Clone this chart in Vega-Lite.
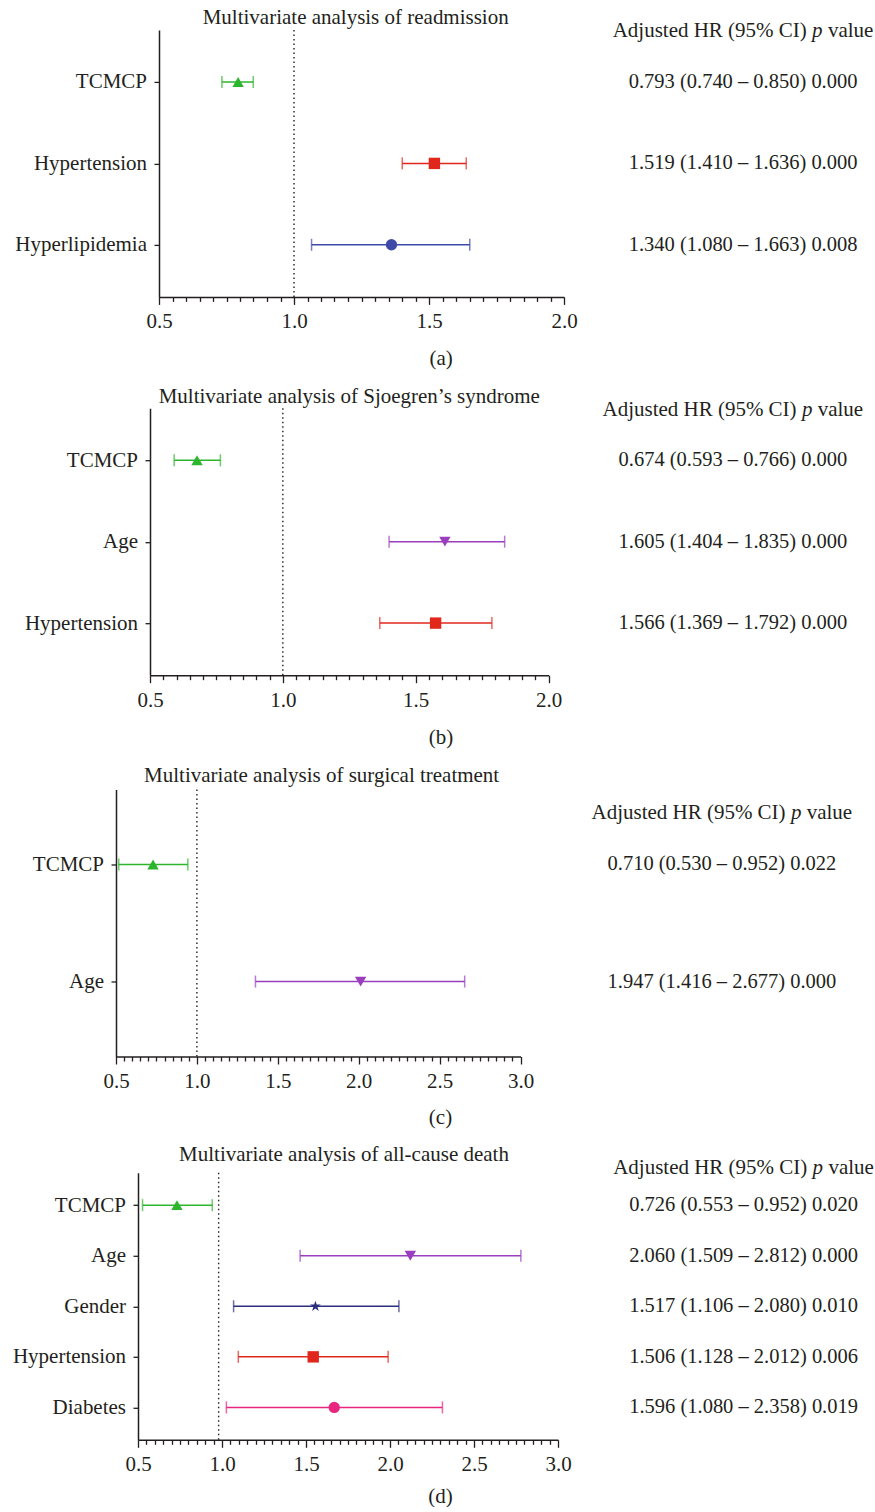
{
  "$schema": "https://vega.github.io/schema/vega-lite/v6.json",
  "background": "white",
  "padding": {"top": 5.9, "left": 0, "right": 0, "bottom": 0},
  "datasets": {
    "a": [
      {"var": "TCMCP", "hr": 0.793, "lo": 0.733, "hi": 0.849, "text": "0.793 (0.740 – 0.850) 0.000"},
      {"var": "Hypertension", "hr": 1.52, "lo": 1.401, "hi": 1.638, "text": "1.519 (1.410 – 1.636) 0.000"},
      {"var": "Hyperlipidemia", "hr": 1.361, "lo": 1.065, "hi": 1.651, "text": "1.340 (1.080 – 1.663) 0.008"}
    ],
    "b": [
      {"var": "TCMCP", "hr": 0.677, "lo": 0.591, "hi": 0.765, "text": "0.674 (0.593 – 0.766) 0.000"},
      {"var": "Age", "hr": 1.61, "lo": 1.4, "hi": 1.835, "text": "1.605 (1.404 – 1.835) 0.000"},
      {"var": "Hypertension", "hr": 1.575, "lo": 1.365, "hi": 1.787, "text": "1.566 (1.369 – 1.792) 0.000"}
    ],
    "c": [
      {"var": "TCMCP", "hr": 0.729, "lo": 0.517, "hi": 0.944, "text": "0.710 (0.530 – 0.952) 0.022"},
      {"var": "Age", "hr": 2.012, "lo": 1.362, "hi": 2.655, "text": "1.947 (1.416 – 2.677) 0.000"}
    ],
    "d": [
      {"var": "TCMCP", "hr": 0.732, "lo": 0.527, "hi": 0.942, "text": "0.726 (0.553 – 0.952) 0.020"},
      {"var": "Age", "hr": 2.121, "lo": 1.465, "hi": 2.779, "text": "2.060 (1.509 – 2.812) 0.000"},
      {"var": "Gender", "hr": 1.556, "lo": 1.069, "hi": 2.053, "text": "1.517 (1.106 – 2.080) 0.010"},
      {"var": "Hypertension", "hr": 1.543, "lo": 1.097, "hi": 1.989, "text": "1.506 (1.128 – 2.012) 0.006"},
      {"var": "Diabetes", "hr": 1.668, "lo": 1.026, "hi": 2.312, "text": "1.596 (1.080 – 2.358) 0.019"}
    ],
    "ref1": [{"ref": 1.0}],
    "refD": [{"ref": 0.98}],
    "none": []
  },
  "concat": [
    {
      "spacing": 0,
      "hconcat": [
        {"width": 2, "height": 10, "data": {"name": "none"}, "mark": {"type": "text"}, "encoding": {}},
        {
          "spacing": 34.1,
          "hconcat": [
            {
              "width": 405, "height": 267,
              "title": {"text": "Multivariate analysis of readmission", "offset": 1.4, "dx": -5.8, "frame": "group", "anchor": "middle"},
              "data": {"name": "a"},
              "resolve": {"axis": {"x": "independent"}},
              "layer": [
                {"data": {"name": "ref1"},
                 "mark": {"type": "rule", "strokeDash": [1.5, 3], "color": "#231f20", "strokeWidth": 1.4},
                 "encoding": {"x": {"field": "ref", "type": "quantitative", "scale": {"domain": [0.5, 2.0], "nice": false, "zero": false},
                   "axis": {"orient": "bottom", "values": [0.5, 1.0, 1.5, 2.0], "format": ".1f", "tickSize": 7.5, "labelPadding": 6.5, "domain": true, "labelFlush": false,
                            "title": "(a)", "titleX": 281.7, "titleY": 61.3, "titleAlign": "center", "titleBaseline": "middle"}}}},
                {"mark": {"type": "rule", "strokeWidth": 1.5},
                 "encoding": {
                   "y": {"field": "var", "type": "nominal", "sort": null, "scale": {"type": "point", "padding": 0.64, "domain": ["TCMCP", "Hypertension", "Hyperlipidemia"]},
                         "axis": {"title": null, "orient": "left", "tickSize": 5, "labelPadding": 7.5, "minExtent": 156.3, "maxExtent": 400}},
                   "x": {"field": "lo", "type": "quantitative", "scale": {"domain": [0.5, 2.0], "nice": false, "zero": false},
                         "axis": {"orient": "bottom", "values": [0.55,0.6,0.65,0.7,0.75,0.8,0.85,0.9,0.95,1.05,1.1,1.15,1.2,1.25,1.3,1.35,1.4,1.45,1.55,1.6,1.65,1.7,1.75,1.8,1.85,1.9,1.95], "labels": false, "domain": false, "tickSize": 4.5, "title": null}},
                   "x2": {"field": "hi"},
                   "color": {"field": "var", "type": "nominal", "scale": {"domain": ["TCMCP", "Hypertension", "Hyperlipidemia", "Age", "Gender", "Diabetes"], "range": ["#2db52d", "#e1271c", "#3e4aa8", "#9b3dbf", "#2c2f7d", "#e8257f"]}, "legend": null}}},
                {"mark": {"type": "tick", "thickness": 1.5, "size": 12},
                 "encoding": {
                   "y": {"field": "var", "type": "nominal", "sort": null, "scale": {"type": "point", "padding": 0.64, "domain": ["TCMCP", "Hypertension", "Hyperlipidemia"]},
                         "axis": {"title": null, "orient": "left", "tickSize": 5, "labelPadding": 7.5, "minExtent": 156.3, "maxExtent": 400}},
                   "x": {"field": "lo", "type": "quantitative", "scale": {"domain": [0.5, 2.0], "nice": false, "zero": false}, "axis": null},
                   "color": {"field": "var", "type": "nominal", "scale": {"domain": ["TCMCP", "Hypertension", "Hyperlipidemia", "Age", "Gender", "Diabetes"], "range": ["#2db52d", "#e1271c", "#3e4aa8", "#9b3dbf", "#2c2f7d", "#e8257f"]}, "legend": null}}},
                {"mark": {"type": "tick", "thickness": 1.5, "size": 12},
                 "encoding": {
                   "y": {"field": "var", "type": "nominal", "sort": null, "scale": {"type": "point", "padding": 0.64, "domain": ["TCMCP", "Hypertension", "Hyperlipidemia"]},
                         "axis": {"title": null, "orient": "left", "tickSize": 5, "labelPadding": 7.5, "minExtent": 156.3, "maxExtent": 400}},
                   "x": {"field": "hi", "type": "quantitative", "scale": {"domain": [0.5, 2.0], "nice": false, "zero": false}, "axis": null},
                   "color": {"field": "var", "type": "nominal", "scale": {"domain": ["TCMCP", "Hypertension", "Hyperlipidemia", "Age", "Gender", "Diabetes"], "range": ["#2db52d", "#e1271c", "#3e4aa8", "#9b3dbf", "#2c2f7d", "#e8257f"]}, "legend": null}}},
                {"mark": {"type": "point", "filled": true, "opacity": 1, "strokeWidth": 0},
                 "encoding": {
                   "y": {"field": "var", "type": "nominal", "sort": null, "scale": {"type": "point", "padding": 0.64, "domain": ["TCMCP", "Hypertension", "Hyperlipidemia"]},
                         "axis": {"title": null, "orient": "left", "tickSize": 5, "labelPadding": 7.5, "minExtent": 156.3, "maxExtent": 400}},
                   "x": {"field": "hr", "type": "quantitative", "scale": {"domain": [0.5, 2.0], "nice": false, "zero": false}, "axis": null},
                   "color": {"field": "var", "type": "nominal", "scale": {"domain": ["TCMCP", "Hypertension", "Hyperlipidemia", "Age", "Gender", "Diabetes"], "range": ["#2db52d", "#e1271c", "#3e4aa8", "#9b3dbf", "#2c2f7d", "#e8257f"]}, "legend": null},
                   "shape": {"field": "var", "type": "nominal", "scale": {"domain": ["TCMCP", "Hypertension", "Hyperlipidemia", "Age", "Gender", "Diabetes"], "range": ["triangle-up", "square", "circle", "triangle-down", "M0,-1L0.2245,-0.309L0.951,-0.309L0.363,0.118L0.588,0.809L0,0.382L-0.588,0.809L-0.363,0.118L-0.951,-0.309L-0.2245,-0.309Z", "circle"]}, "legend": null},
                   "size": {"field": "var", "type": "nominal", "scale": {"domain": ["TCMCP", "Hypertension", "Hyperlipidemia", "Age", "Gender", "Diabetes"], "range": [130, 128, 92, 130, 170, 130]}, "legend": null}}}
              ]
            },
            {
              "width": 262, "height": 267,
              "data": {"name": "a"},
              "encoding": {"y": {"field": "var", "type": "nominal", "sort": null, "scale": {"type": "point", "padding": 0.64, "domain": ["TCMCP", "Hypertension", "Hyperlipidemia"]}, "axis": null}},
              "layer": [
                {"mark": {"type": "text", "fontSize": 20.5, "baseline": "middle", "align": "center"}, "encoding": {"text": {"field": "text"}}},
                {"transform": [{"filter": "datum.var === 'TCMCP'"}], "mark": {"type": "text", "fontSize": 21, "baseline": "alphabetic", "align": "left", "dx": -130.4, "dy": -45}, "encoding": {"text": {"value": "Adjusted HR (95% CI)"}}},
                {"transform": [{"filter": "datum.var === 'TCMCP'"}], "mark": {"type": "text", "fontSize": 21, "baseline": "alphabetic", "align": "left", "dx": 69, "dy": -45, "fontStyle": "italic"}, "encoding": {"text": {"value": "p"}}},
                {"transform": [{"filter": "datum.var === 'TCMCP'"}], "mark": {"type": "text", "fontSize": 21, "baseline": "alphabetic", "align": "left", "dx": 84.8, "dy": -45}, "encoding": {"text": {"value": "value"}}}
              ]
            }
          ]
        }
      ]
    },
    {
      "spacing": 0,
      "hconcat": [
        {"width": 2, "height": 10, "data": {"name": "none"}, "mark": {"type": "text"}, "encoding": {}},
        {
          "spacing": 39.9,
          "hconcat": [
            {
              "width": 398.5, "height": 267,
              "title": {"text": "Multivariate analysis of Sjoegren’s syndrome", "offset": 0.6, "dx": 0, "frame": "group", "anchor": "middle"},
              "data": {"name": "b"},
              "resolve": {"axis": {"x": "independent"}},
              "layer": [
                {"data": {"name": "ref1"},
                 "mark": {"type": "rule", "strokeDash": [1.5, 3], "color": "#231f20", "strokeWidth": 1.4},
                 "encoding": {"x": {"field": "ref", "type": "quantitative", "scale": {"domain": [0.5, 2.0], "nice": false, "zero": false},
                   "axis": {"orient": "bottom", "values": [0.5, 1.0, 1.5, 2.0], "format": ".1f", "tickSize": 7.5, "labelPadding": 6.5, "domain": true, "labelFlush": false,
                            "title": "(b)", "titleX": 290.5, "titleY": 62.5, "titleAlign": "center", "titleBaseline": "middle"}}}},
                {"mark": {"type": "rule", "strokeWidth": 1.5},
                 "encoding": {
                   "y": {"field": "var", "type": "nominal", "sort": null, "scale": {"type": "point", "padding": 0.64, "domain": ["TCMCP", "Age", "Hypertension"]},
                         "axis": {"title": null, "orient": "left", "tickSize": 5, "labelPadding": 7.5, "minExtent": 147.5, "maxExtent": 400}},
                   "x": {"field": "lo", "type": "quantitative", "scale": {"domain": [0.5, 2.0], "nice": false, "zero": false},
                         "axis": {"orient": "bottom", "values": [0.55,0.6,0.65,0.7,0.75,0.8,0.85,0.9,0.95,1.05,1.1,1.15,1.2,1.25,1.3,1.35,1.4,1.45,1.55,1.6,1.65,1.7,1.75,1.8,1.85,1.9,1.95], "labels": false, "domain": false, "tickSize": 4.5, "title": null}},
                   "x2": {"field": "hi"},
                   "color": {"field": "var", "type": "nominal", "scale": {"domain": ["TCMCP", "Hypertension", "Hyperlipidemia", "Age", "Gender", "Diabetes"], "range": ["#2db52d", "#e1271c", "#3e4aa8", "#9b3dbf", "#2c2f7d", "#e8257f"]}, "legend": null}}},
                {"mark": {"type": "tick", "thickness": 1.5, "size": 12},
                 "encoding": {
                   "y": {"field": "var", "type": "nominal", "sort": null, "scale": {"type": "point", "padding": 0.64, "domain": ["TCMCP", "Age", "Hypertension"]},
                         "axis": {"title": null, "orient": "left", "tickSize": 5, "labelPadding": 7.5, "minExtent": 147.5, "maxExtent": 400}},
                   "x": {"field": "lo", "type": "quantitative", "scale": {"domain": [0.5, 2.0], "nice": false, "zero": false}, "axis": null},
                   "color": {"field": "var", "type": "nominal", "scale": {"domain": ["TCMCP", "Hypertension", "Hyperlipidemia", "Age", "Gender", "Diabetes"], "range": ["#2db52d", "#e1271c", "#3e4aa8", "#9b3dbf", "#2c2f7d", "#e8257f"]}, "legend": null}}},
                {"mark": {"type": "tick", "thickness": 1.5, "size": 12},
                 "encoding": {
                   "y": {"field": "var", "type": "nominal", "sort": null, "scale": {"type": "point", "padding": 0.64, "domain": ["TCMCP", "Age", "Hypertension"]},
                         "axis": {"title": null, "orient": "left", "tickSize": 5, "labelPadding": 7.5, "minExtent": 147.5, "maxExtent": 400}},
                   "x": {"field": "hi", "type": "quantitative", "scale": {"domain": [0.5, 2.0], "nice": false, "zero": false}, "axis": null},
                   "color": {"field": "var", "type": "nominal", "scale": {"domain": ["TCMCP", "Hypertension", "Hyperlipidemia", "Age", "Gender", "Diabetes"], "range": ["#2db52d", "#e1271c", "#3e4aa8", "#9b3dbf", "#2c2f7d", "#e8257f"]}, "legend": null}}},
                {"mark": {"type": "point", "filled": true, "opacity": 1, "strokeWidth": 0},
                 "encoding": {
                   "y": {"field": "var", "type": "nominal", "sort": null, "scale": {"type": "point", "padding": 0.64, "domain": ["TCMCP", "Age", "Hypertension"]},
                         "axis": {"title": null, "orient": "left", "tickSize": 5, "labelPadding": 7.5, "minExtent": 147.5, "maxExtent": 400}},
                   "x": {"field": "hr", "type": "quantitative", "scale": {"domain": [0.5, 2.0], "nice": false, "zero": false}, "axis": null},
                   "color": {"field": "var", "type": "nominal", "scale": {"domain": ["TCMCP", "Hypertension", "Hyperlipidemia", "Age", "Gender", "Diabetes"], "range": ["#2db52d", "#e1271c", "#3e4aa8", "#9b3dbf", "#2c2f7d", "#e8257f"]}, "legend": null},
                   "shape": {"field": "var", "type": "nominal", "scale": {"domain": ["TCMCP", "Hypertension", "Hyperlipidemia", "Age", "Gender", "Diabetes"], "range": ["triangle-up", "square", "circle", "triangle-down", "M0,-1L0.2245,-0.309L0.951,-0.309L0.363,0.118L0.588,0.809L0,0.382L-0.588,0.809L-0.363,0.118L-0.951,-0.309L-0.2245,-0.309Z", "circle"]}, "legend": null},
                   "size": {"field": "var", "type": "nominal", "scale": {"domain": ["TCMCP", "Hypertension", "Hyperlipidemia", "Age", "Gender", "Diabetes"], "range": [130, 128, 92, 130, 170, 130]}, "legend": null}}}
              ]
            },
            {
              "width": 262, "height": 267,
              "data": {"name": "b"},
              "encoding": {"y": {"field": "var", "type": "nominal", "sort": null, "scale": {"type": "point", "padding": 0.64, "domain": ["TCMCP", "Age", "Hypertension"]}, "axis": null}},
              "layer": [
                {"mark": {"type": "text", "fontSize": 20.5, "baseline": "middle", "align": "center"}, "encoding": {"text": {"field": "text"}}},
                {"transform": [{"filter": "datum.var === 'TCMCP'"}], "mark": {"type": "text", "fontSize": 21, "baseline": "alphabetic", "align": "left", "dx": -130.4, "dy": -44}, "encoding": {"text": {"value": "Adjusted HR (95% CI)"}}},
                {"transform": [{"filter": "datum.var === 'TCMCP'"}], "mark": {"type": "text", "fontSize": 21, "baseline": "alphabetic", "align": "left", "dx": 69, "dy": -44, "fontStyle": "italic"}, "encoding": {"text": {"value": "p"}}},
                {"transform": [{"filter": "datum.var === 'TCMCP'"}], "mark": {"type": "text", "fontSize": 21, "baseline": "alphabetic", "align": "left", "dx": 84.8, "dy": -44}, "encoding": {"text": {"value": "value"}}}
              ]
            }
          ]
        }
      ]
    },
    {
      "spacing": 0,
      "hconcat": [
        {"width": 2, "height": 10, "data": {"name": "none"}, "mark": {"type": "text"}, "encoding": {}},
        {
          "spacing": 56.9,
          "hconcat": [
            {
              "width": 404.5, "height": 267,
              "title": {"text": "Multivariate analysis of surgical treatment", "offset": 2.9, "dx": 3.4, "frame": "group", "anchor": "middle"},
              "data": {"name": "c"},
              "resolve": {"axis": {"x": "independent"}},
              "layer": [
                {"data": {"name": "ref1"},
                 "mark": {"type": "rule", "strokeDash": [1.5, 3], "color": "#231f20", "strokeWidth": 1.4},
                 "encoding": {"x": {"field": "ref", "type": "quantitative", "scale": {"domain": [0.5, 3.0], "nice": false, "zero": false},
                   "axis": {"orient": "bottom", "values": [0.5, 1.0, 1.5, 2.0, 2.5, 3.0], "format": ".1f", "tickSize": 7.5, "labelPadding": 6.5, "domain": true, "labelFlush": false,
                            "title": "(c)", "titleX": 324, "titleY": 61, "titleAlign": "center", "titleBaseline": "middle"}}}},
                {"mark": {"type": "rule", "strokeWidth": 1.5},
                 "encoding": {
                   "y": {"field": "var", "type": "nominal", "sort": null, "scale": {"type": "point", "padding": 0.64, "domain": ["TCMCP", "Age"]},
                         "axis": {"title": null, "orient": "left", "tickSize": 5, "labelPadding": 7.5, "minExtent": 114, "maxExtent": 400}},
                   "x": {"field": "lo", "type": "quantitative", "scale": {"domain": [0.5, 3.0], "nice": false, "zero": false},
                         "axis": {"orient": "bottom", "values": [0.55,0.6,0.65,0.7,0.75,0.8,0.85,0.9,0.95,1.05,1.1,1.15,1.2,1.25,1.3,1.35,1.4,1.45,1.55,1.6,1.65,1.7,1.75,1.8,1.85,1.9,1.95,2.05,2.1,2.15,2.2,2.25,2.3,2.35,2.4,2.45,2.55,2.6,2.65,2.7,2.75,2.8,2.85,2.9,2.95], "labels": false, "domain": false, "tickSize": 4.5, "title": null}},
                   "x2": {"field": "hi"},
                   "color": {"field": "var", "type": "nominal", "scale": {"domain": ["TCMCP", "Hypertension", "Hyperlipidemia", "Age", "Gender", "Diabetes"], "range": ["#2db52d", "#e1271c", "#3e4aa8", "#9b3dbf", "#2c2f7d", "#e8257f"]}, "legend": null}}},
                {"mark": {"type": "tick", "thickness": 1.5, "size": 12},
                 "encoding": {
                   "y": {"field": "var", "type": "nominal", "sort": null, "scale": {"type": "point", "padding": 0.64, "domain": ["TCMCP", "Age"]},
                         "axis": {"title": null, "orient": "left", "tickSize": 5, "labelPadding": 7.5, "minExtent": 114, "maxExtent": 400}},
                   "x": {"field": "lo", "type": "quantitative", "scale": {"domain": [0.5, 3.0], "nice": false, "zero": false}, "axis": null},
                   "color": {"field": "var", "type": "nominal", "scale": {"domain": ["TCMCP", "Hypertension", "Hyperlipidemia", "Age", "Gender", "Diabetes"], "range": ["#2db52d", "#e1271c", "#3e4aa8", "#9b3dbf", "#2c2f7d", "#e8257f"]}, "legend": null}}},
                {"mark": {"type": "tick", "thickness": 1.5, "size": 12},
                 "encoding": {
                   "y": {"field": "var", "type": "nominal", "sort": null, "scale": {"type": "point", "padding": 0.64, "domain": ["TCMCP", "Age"]},
                         "axis": {"title": null, "orient": "left", "tickSize": 5, "labelPadding": 7.5, "minExtent": 114, "maxExtent": 400}},
                   "x": {"field": "hi", "type": "quantitative", "scale": {"domain": [0.5, 3.0], "nice": false, "zero": false}, "axis": null},
                   "color": {"field": "var", "type": "nominal", "scale": {"domain": ["TCMCP", "Hypertension", "Hyperlipidemia", "Age", "Gender", "Diabetes"], "range": ["#2db52d", "#e1271c", "#3e4aa8", "#9b3dbf", "#2c2f7d", "#e8257f"]}, "legend": null}}},
                {"mark": {"type": "point", "filled": true, "opacity": 1, "strokeWidth": 0},
                 "encoding": {
                   "y": {"field": "var", "type": "nominal", "sort": null, "scale": {"type": "point", "padding": 0.64, "domain": ["TCMCP", "Age"]},
                         "axis": {"title": null, "orient": "left", "tickSize": 5, "labelPadding": 7.5, "minExtent": 114, "maxExtent": 400}},
                   "x": {"field": "hr", "type": "quantitative", "scale": {"domain": [0.5, 3.0], "nice": false, "zero": false}, "axis": null},
                   "color": {"field": "var", "type": "nominal", "scale": {"domain": ["TCMCP", "Hypertension", "Hyperlipidemia", "Age", "Gender", "Diabetes"], "range": ["#2db52d", "#e1271c", "#3e4aa8", "#9b3dbf", "#2c2f7d", "#e8257f"]}, "legend": null},
                   "shape": {"field": "var", "type": "nominal", "scale": {"domain": ["TCMCP", "Hypertension", "Hyperlipidemia", "Age", "Gender", "Diabetes"], "range": ["triangle-up", "square", "circle", "triangle-down", "M0,-1L0.2245,-0.309L0.951,-0.309L0.363,0.118L0.588,0.809L0,0.382L-0.588,0.809L-0.363,0.118L-0.951,-0.309L-0.2245,-0.309Z", "circle"]}, "legend": null},
                   "size": {"field": "var", "type": "nominal", "scale": {"domain": ["TCMCP", "Hypertension", "Hyperlipidemia", "Age", "Gender", "Diabetes"], "range": [130, 128, 92, 130, 170, 130]}, "legend": null}}}
              ]
            },
            {
              "width": 262, "height": 267,
              "data": {"name": "c"},
              "encoding": {"y": {"field": "var", "type": "nominal", "sort": null, "scale": {"type": "point", "padding": 0.64, "domain": ["TCMCP", "Age"]}, "axis": null}},
              "layer": [
                {"mark": {"type": "text", "fontSize": 20.5, "baseline": "middle", "align": "center"}, "encoding": {"text": {"field": "text"}}},
                {"transform": [{"filter": "datum.var === 'TCMCP'"}], "mark": {"type": "text", "fontSize": 21, "baseline": "alphabetic", "align": "left", "dx": -130.4, "dy": -45}, "encoding": {"text": {"value": "Adjusted HR (95% CI)"}}},
                {"transform": [{"filter": "datum.var === 'TCMCP'"}], "mark": {"type": "text", "fontSize": 21, "baseline": "alphabetic", "align": "left", "dx": 69, "dy": -45, "fontStyle": "italic"}, "encoding": {"text": {"value": "p"}}},
                {"transform": [{"filter": "datum.var === 'TCMCP'"}], "mark": {"type": "text", "fontSize": 21, "baseline": "alphabetic", "align": "left", "dx": 84.8, "dy": -45}, "encoding": {"text": {"value": "value"}}}
              ]
            }
          ]
        }
      ]
    },
    {
      "spacing": 0,
      "hconcat": [
        {"width": 2, "height": 10, "data": {"name": "none"}, "mark": {"type": "text"}, "encoding": {}},
        {
          "spacing": 40.6,
          "hconcat": [
            {
              "width": 420, "height": 267,
              "title": {"text": "Multivariate analysis of all-cause death", "offset": 6.7, "dx": -4, "frame": "group", "anchor": "middle"},
              "data": {"name": "d"},
              "resolve": {"axis": {"x": "independent"}},
              "layer": [
                {"data": {"name": "refD"},
                 "mark": {"type": "rule", "strokeDash": [1.5, 3], "color": "#231f20", "strokeWidth": 1.4},
                 "encoding": {"x": {"field": "ref", "type": "quantitative", "scale": {"domain": [0.5, 3.0], "nice": false, "zero": false},
                   "axis": {"orient": "bottom", "values": [0.5, 1.0, 1.5, 2.0, 2.5, 3.0], "format": ".1f", "tickSize": 7.5, "labelPadding": 6.5, "domain": true, "labelFlush": false,
                            "title": "(d)", "titleX": 302, "titleY": 57, "titleAlign": "center", "titleBaseline": "middle"}}}},
                {"mark": {"type": "rule", "strokeWidth": 1.5},
                 "encoding": {
                   "y": {"field": "var", "type": "nominal", "sort": null, "scale": {"type": "point", "padding": 0.64, "domain": ["TCMCP", "Age", "Gender", "Hypertension", "Diabetes"]},
                         "axis": {"title": null, "orient": "left", "tickSize": 5, "labelPadding": 7.5, "minExtent": 136, "maxExtent": 400}},
                   "x": {"field": "lo", "type": "quantitative", "scale": {"domain": [0.5, 3.0], "nice": false, "zero": false},
                         "axis": {"orient": "bottom", "values": [0.55,0.6,0.65,0.7,0.75,0.8,0.85,0.9,0.95,1.05,1.1,1.15,1.2,1.25,1.3,1.35,1.4,1.45,1.55,1.6,1.65,1.7,1.75,1.8,1.85,1.9,1.95,2.05,2.1,2.15,2.2,2.25,2.3,2.35,2.4,2.45,2.55,2.6,2.65,2.7,2.75,2.8,2.85,2.9,2.95], "labels": false, "domain": false, "tickSize": 4.5, "title": null}},
                   "x2": {"field": "hi"},
                   "color": {"field": "var", "type": "nominal", "scale": {"domain": ["TCMCP", "Hypertension", "Hyperlipidemia", "Age", "Gender", "Diabetes"], "range": ["#2db52d", "#e1271c", "#3e4aa8", "#9b3dbf", "#2c2f7d", "#e8257f"]}, "legend": null}}},
                {"mark": {"type": "tick", "thickness": 1.5, "size": 12},
                 "encoding": {
                   "y": {"field": "var", "type": "nominal", "sort": null, "scale": {"type": "point", "padding": 0.64, "domain": ["TCMCP", "Age", "Gender", "Hypertension", "Diabetes"]},
                         "axis": {"title": null, "orient": "left", "tickSize": 5, "labelPadding": 7.5, "minExtent": 136, "maxExtent": 400}},
                   "x": {"field": "lo", "type": "quantitative", "scale": {"domain": [0.5, 3.0], "nice": false, "zero": false}, "axis": null},
                   "color": {"field": "var", "type": "nominal", "scale": {"domain": ["TCMCP", "Hypertension", "Hyperlipidemia", "Age", "Gender", "Diabetes"], "range": ["#2db52d", "#e1271c", "#3e4aa8", "#9b3dbf", "#2c2f7d", "#e8257f"]}, "legend": null}}},
                {"mark": {"type": "tick", "thickness": 1.5, "size": 12},
                 "encoding": {
                   "y": {"field": "var", "type": "nominal", "sort": null, "scale": {"type": "point", "padding": 0.64, "domain": ["TCMCP", "Age", "Gender", "Hypertension", "Diabetes"]},
                         "axis": {"title": null, "orient": "left", "tickSize": 5, "labelPadding": 7.5, "minExtent": 136, "maxExtent": 400}},
                   "x": {"field": "hi", "type": "quantitative", "scale": {"domain": [0.5, 3.0], "nice": false, "zero": false}, "axis": null},
                   "color": {"field": "var", "type": "nominal", "scale": {"domain": ["TCMCP", "Hypertension", "Hyperlipidemia", "Age", "Gender", "Diabetes"], "range": ["#2db52d", "#e1271c", "#3e4aa8", "#9b3dbf", "#2c2f7d", "#e8257f"]}, "legend": null}}},
                {"mark": {"type": "point", "filled": true, "opacity": 1, "strokeWidth": 0},
                 "encoding": {
                   "y": {"field": "var", "type": "nominal", "sort": null, "scale": {"type": "point", "padding": 0.64, "domain": ["TCMCP", "Age", "Gender", "Hypertension", "Diabetes"]},
                         "axis": {"title": null, "orient": "left", "tickSize": 5, "labelPadding": 7.5, "minExtent": 136, "maxExtent": 400}},
                   "x": {"field": "hr", "type": "quantitative", "scale": {"domain": [0.5, 3.0], "nice": false, "zero": false}, "axis": null},
                   "color": {"field": "var", "type": "nominal", "scale": {"domain": ["TCMCP", "Hypertension", "Hyperlipidemia", "Age", "Gender", "Diabetes"], "range": ["#2db52d", "#e1271c", "#3e4aa8", "#9b3dbf", "#2c2f7d", "#e8257f"]}, "legend": null},
                   "shape": {"field": "var", "type": "nominal", "scale": {"domain": ["TCMCP", "Hypertension", "Hyperlipidemia", "Age", "Gender", "Diabetes"], "range": ["triangle-up", "square", "circle", "triangle-down", "M0,-1L0.2245,-0.309L0.951,-0.309L0.363,0.118L0.588,0.809L0,0.382L-0.588,0.809L-0.363,0.118L-0.951,-0.309L-0.2245,-0.309Z", "circle"]}, "legend": null},
                   "size": {"field": "var", "type": "nominal", "scale": {"domain": ["TCMCP", "Hypertension", "Hyperlipidemia", "Age", "Gender", "Diabetes"], "range": [130, 128, 92, 130, 170, 130]}, "legend": null}}}
              ]
            },
            {
              "width": 262, "height": 267,
              "data": {"name": "d"},
              "encoding": {"y": {"field": "var", "type": "nominal", "sort": null, "scale": {"type": "point", "padding": 0.64, "domain": ["TCMCP", "Age", "Gender", "Hypertension", "Diabetes"]}, "axis": null}},
              "layer": [
                {"mark": {"type": "text", "fontSize": 20.5, "baseline": "middle", "align": "center"}, "encoding": {"text": {"field": "text"}}},
                {"transform": [{"filter": "datum.var === 'TCMCP'"}], "mark": {"type": "text", "fontSize": 21, "baseline": "alphabetic", "align": "left", "dx": -130.4, "dy": -31}, "encoding": {"text": {"value": "Adjusted HR (95% CI)"}}},
                {"transform": [{"filter": "datum.var === 'TCMCP'"}], "mark": {"type": "text", "fontSize": 21, "baseline": "alphabetic", "align": "left", "dx": 69, "dy": -31, "fontStyle": "italic"}, "encoding": {"text": {"value": "p"}}},
                {"transform": [{"filter": "datum.var === 'TCMCP'"}], "mark": {"type": "text", "fontSize": 21, "baseline": "alphabetic", "align": "left", "dx": 84.8, "dy": -31}, "encoding": {"text": {"value": "value"}}}
              ]
            }
          ]
        }
      ]
    }
  ],
  "columns": 1,
  "align": "none",
  "spacing": 16.3,
  "config": {
    "view": {"stroke": null},
    "font": "Liberation Serif",
    "title": {"font": "Liberation Serif", "fontSize": 21, "fontWeight": "normal", "color": "#231f20"},
    "text": {"font": "Liberation Serif", "color": "#231f20"},
    "axis": {"labelFont": "Liberation Serif", "labelFontSize": 21, "labelColor": "#231f20", "titleFont": "Liberation Serif", "titleFontSize": 21, "titleFontWeight": "normal", "titleColor": "#231f20", "domainColor": "#231f20", "domainWidth": 1.5, "tickColor": "#231f20", "tickWidth": 1.3, "grid": false, "labelOverlap": false}
  }
}
